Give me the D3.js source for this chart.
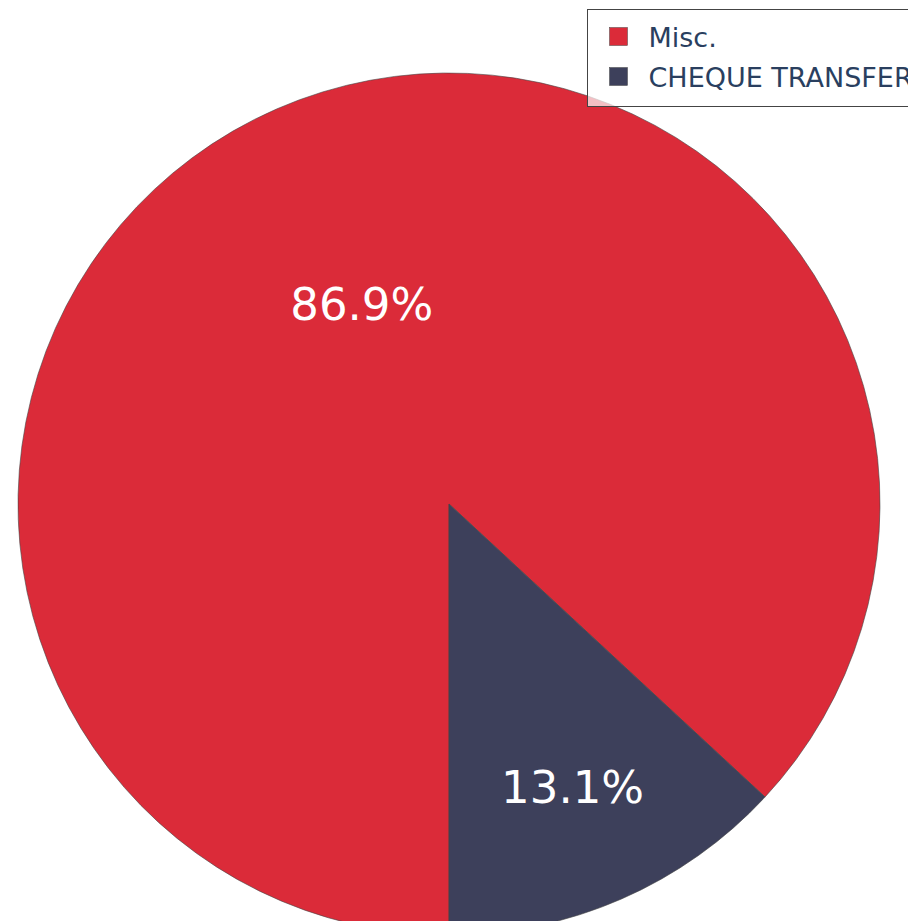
<!DOCTYPE html>
<html><head><meta charset="utf-8">
<script src="https://cdn.jsdelivr.net/npm/d3@7"></script>
<style>body{margin:0;background:#fff;}svg{display:block;}</style>
</head><body>
<script>
const categories = ["Misc.", "CHEQUE TRANSFER"];
const values = [86.9, 13.1];
const colors = ["#DB2B39", "#3D405B"];

const W = 908, H = 921;
const cx = 449, cy = 504, R = 431;
const svg = d3.select("body").append("svg").attr("width", W).attr("height", H);

const pie = d3.pie().sort(null).value(d => d.v)
  .startAngle(Math.PI).endAngle(3 * Math.PI);
const data = categories.map((c, i) => ({c, v: values[i], col: colors[i]}));
const arcs = pie(data);
const arc = d3.arc().innerRadius(0).outerRadius(R);
const g = svg.append("g").attr("transform", `translate(${cx},${cy})`);
g.selectAll("path").data(arcs).enter().append("path")
  .attr("d", arc).attr("fill", d => d.data.col)
  .attr("stroke", "#444").attr("stroke-width", 0.6);

const labelR = [218, 309];
const total = d3.sum(values);
g.selectAll("text").data(arcs).enter().append("text")
  .attr("transform", (d, i) => {
    const a = (d.startAngle + d.endAngle) / 2;
    return `translate(${Math.sin(a) * labelR[i]},${-Math.cos(a) * labelR[i]})`;
  })
  .attr("text-anchor", "middle").attr("dy", "0.36em")
  .attr("fill", "#fff").style("font-family", "DejaVu Sans")
  .style("font-size", "45px")
  .text(d => (d.data.v / total * 100).toFixed(1) + "%");

const lg = svg.append("g").attr("transform", "translate(587.5,9.5)");
lg.append("rect").attr("width", 340).attr("height", 97)
  .attr("fill", "rgba(255,255,255,0.7)").attr("stroke", "#444").attr("stroke-width", 1);
data.forEach((d, i) => {
  const y = 28 + i * 40;
  lg.append("rect").attr("x", 22).attr("y", y - 10).attr("width", 18).attr("height", 18)
    .attr("fill", d.col).attr("stroke", "#444").attr("stroke-width", 0.5);
  lg.append("text").attr("x", 61).attr("y", y).attr("dy", "0.36em")
    .attr("fill", "#2a3f5f").style("font-family", "DejaVu Sans").style("font-size", "27px")
    .text(d.c);
});
</script>
</body></html>
